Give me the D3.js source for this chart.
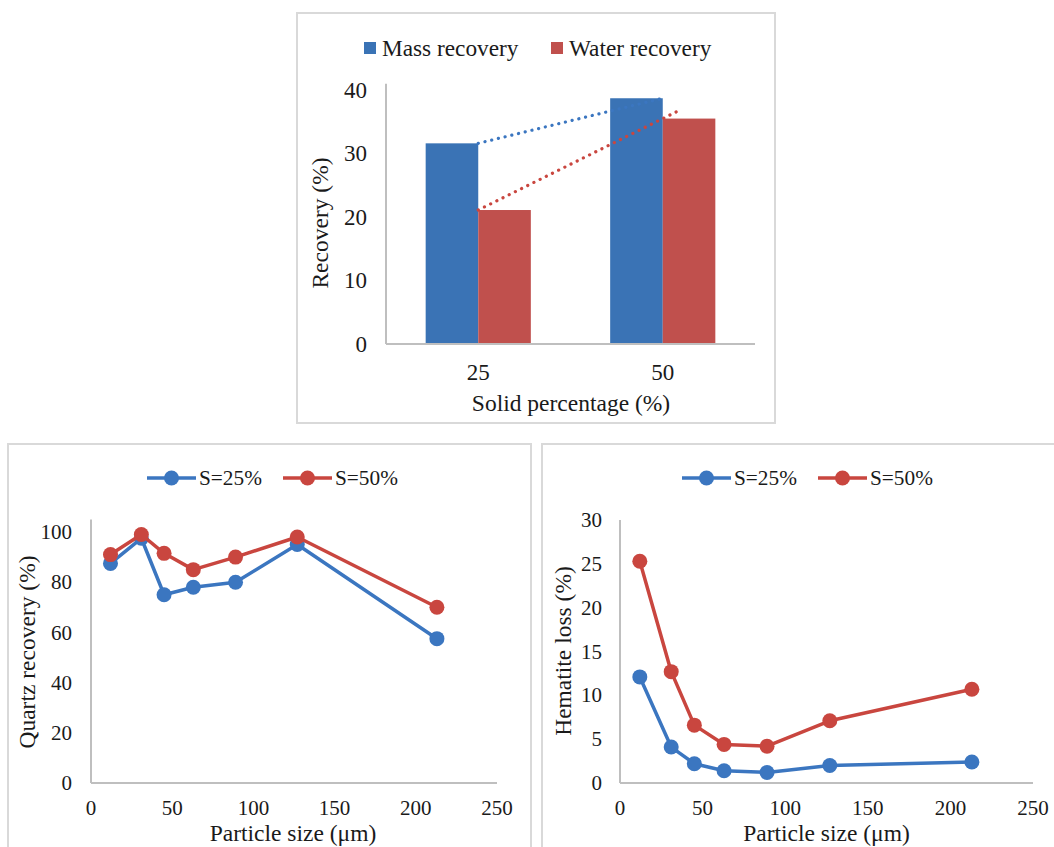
<!DOCTYPE html>
<html>
<head>
<meta charset="utf-8">
<script src="https://cdn.jsdelivr.net/npm/d3@7"></script>
<style>
  html, body { margin: 0; padding: 0; background: #fff; }
  svg text { font-family: "Liberation Serif", "Times New Roman", serif; fill: #1a1a1a; }
</style>
</head>
<body>
<svg id="chart" width="1054" height="847"></svg>
<script>
// ---------- DATA ----------
// Top chart: recovery vs solid percentage
const solidCategories = ["25", "50"];
const barSeries = ["Mass recovery", "Water recovery"];
const massRecovery = [31.6, 38.7];
const waterRecovery = [21.1, 35.5];
const recoveryTicks = [0, 10, 20, 30, 40];

// Bottom charts: particle size
const particleSize = [12, 31, 45, 63, 89, 127, 213];
const lineSeries = ["S=25%", "S=50%"];
const quartzS25 = [87.5, 97.5, 75, 78, 80, 95, 57.5];
const quartzS50 = [91, 99, 91.5, 85, 90, 98, 70];
const hematiteS25 = [12.1, 4.1, 2.2, 1.4, 1.2, 2.0, 2.4];
const hematiteS50 = [25.3, 12.7, 6.6, 4.4, 4.2, 7.1, 10.7];
const sizeTicks = [0, 50, 100, 150, 200, 250];
const quartzTicks = [0, 20, 40, 60, 80, 100];
const hematiteTicks = [0, 5, 10, 15, 20, 25, 30];

// ---------- STYLE ----------
const BLUE_BAR = "#3a73b5", RED_BAR = "#c0504d";
const BLUE_LINE = "#3b76c0", RED_LINE = "#c9463f";
const AXIS = "#bfbfbf", FRAME = "#d9d9d9";
const barColors = [BLUE_BAR, RED_BAR];
const lineColors = [BLUE_LINE, RED_LINE];

const svg = d3.select("#chart");

function frame(x, y, w, h) {
  svg.append("rect").attr("x", x).attr("y", y).attr("width", w).attr("height", h)
    .attr("fill", "none").attr("stroke", FRAME).attr("stroke-width", 2);
}

// ---------- TOP BAR CHART ----------
(function () {
  frame(297, 13, 478, 410);
  const g = svg.append("g");
  const y = d3.scaleLinear().domain([0, 40]).range([344, 90]);
  const x = d3.scaleBand().domain(solidCategories).range([386, 755])
    .paddingInner(0.43).paddingOuter(0.215);
  const xs = d3.scaleBand().domain(barSeries).range([0, x.bandwidth()]);
  const values = [massRecovery, waterRecovery];

  // bars
  barSeries.forEach((s, si) => {
    g.selectAll(null).data(solidCategories).enter().append("rect")
      .attr("x", (c) => x(c) + xs(s))
      .attr("y", (c, i) => y(values[si][i]))
      .attr("width", xs.bandwidth())
      .attr("height", (c, i) => y(0) - y(values[si][i]))
      .attr("fill", barColors[si]);
  });

  // trend lines (dotted), linear through category centres
  const cx = (t) => x(solidCategories[0]) + x.bandwidth() / 2 + t * x.step();
  const trendEnds = [1.0, 1.08];
  values.forEach((vals, si) => {
    const slope = vals[1] - vals[0];
    const t1 = trendEnds[si];
    g.append("line")
      .attr("x1", cx(0)).attr("y1", y(vals[0]))
      .attr("x2", cx(t1)).attr("y2", y(vals[0] + slope * t1))
      .attr("stroke", lineColors[si]).attr("stroke-width", 3.2)
      .attr("stroke-linecap", "round").attr("stroke-dasharray", "0.1 6.8");
  });

  // axes lines
  g.append("line").attr("x1", 386).attr("x2", 386).attr("y1", y(0)).attr("y2", y(41))
    .attr("stroke", AXIS).attr("stroke-width", 2);
  g.append("line").attr("x1", 386).attr("x2", 755).attr("y1", y(0)).attr("y2", y(0))
    .attr("stroke", AXIS).attr("stroke-width", 2);

  // tick labels
  g.selectAll(null).data(recoveryTicks).enter().append("text")
    .attr("x", 367).attr("y", (d) => y(d)).attr("dy", "0.34em")
    .attr("text-anchor", "end").attr("font-size", 23).text((d) => d);
  g.selectAll(null).data(solidCategories).enter().append("text")
    .attr("x", (c) => x(c) + x.bandwidth() / 2).attr("y", 380)
    .attr("text-anchor", "middle").attr("font-size", 23).text((d) => d);

  // titles
  g.append("text").attr("x", 571).attr("y", 411).attr("text-anchor", "middle")
    .attr("font-size", 23.5).text("Solid percentage (%)");
  g.append("text").attr("transform", "translate(328,223) rotate(-90)")
    .attr("text-anchor", "middle").attr("font-size", 23.5).text("Recovery (%)");

  // legend
  const legX = [364, 551];
  barSeries.forEach((s, i) => {
    g.append("rect").attr("x", legX[i]).attr("y", 42).attr("width", 12).attr("height", 12)
      .attr("fill", barColors[i]);
    g.append("text").attr("x", legX[i] + 18).attr("y", 56).attr("font-size", 23.3).text(s);
  });
})();

// ---------- LINE CHART helper ----------
function lineChart(opt) {
  frame(opt.frameX, 444, opt.frameW, 430);
  const g = svg.append("g");
  const x = d3.scaleLinear().domain([0, 250]).range([opt.x0, opt.x1]);
  const y = d3.scaleLinear().domain([0, opt.yMax]).range([783, opt.yTopPx]);

  g.append("line").attr("x1", x(0)).attr("x2", x(0)).attr("y1", y(0)).attr("y2", y(opt.yAxisTop))
    .attr("stroke", AXIS).attr("stroke-width", 2);
  g.append("line").attr("x1", x(0)).attr("x2", x(250)).attr("y1", y(0)).attr("y2", y(0))
    .attr("stroke", AXIS).attr("stroke-width", 2);

  g.selectAll(null).data(opt.yTicks).enter().append("text")
    .attr("x", opt.yLabelX).attr("y", (d) => y(d)).attr("dy", "0.34em")
    .attr("text-anchor", "end").attr("font-size", 21).text((d) => d);
  g.selectAll(null).data(sizeTicks).enter().append("text")
    .attr("x", (d) => x(d)).attr("y", 815)
    .attr("text-anchor", "middle").attr("font-size", 21).text((d) => d);

  g.append("text").attr("x", (x(0) + x(250)) / 2 + opt.xTitleShift).attr("y", 841)
    .attr("text-anchor", "middle").attr("font-size", 23.5).text("Particle size (\u03bcm)");
  g.append("text").attr("transform", `translate(${opt.yTitleX},${opt.yTitleY}) rotate(-90)`)
    .attr("text-anchor", "middle").attr("font-size", 23.5).text(opt.yTitle);

  const line = d3.line().x((d) => x(d[0])).y((d) => y(d[1]));
  opt.series.forEach((vals, si) => {
    const pts = particleSize.map((p, i) => [p, vals[i]]);
    g.append("path").attr("d", line(pts)).attr("fill", "none")
      .attr("stroke", lineColors[si]).attr("stroke-width", 3.5).attr("stroke-linejoin", "round");
    g.selectAll(null).data(pts).enter().append("circle")
      .attr("cx", (d) => x(d[0])).attr("cy", (d) => y(d[1])).attr("r", 7.5)
      .attr("fill", lineColors[si]);
  });

  // legend
  opt.legendX.forEach((lx, i) => {
    g.append("line").attr("x1", lx).attr("x2", lx + 49).attr("y1", 478).attr("y2", 478)
      .attr("stroke", lineColors[i]).attr("stroke-width", 3.5);
    g.append("circle").attr("cx", lx + 24.5).attr("cy", 478).attr("r", 7.5).attr("fill", lineColors[i]);
    g.append("text").attr("x", lx + 52).attr("y", 485).attr("font-size", 21.3).text(lineSeries[i]);
  });
}

lineChart({
  frameX: 8, frameW: 523, x0: 91, x1: 497, yMax: 100, yTopPx: 532, yAxisTop: 105,
  yTicks: quartzTicks, yLabelX: 72, yTitle: "Quartz recovery (%)", yTitleX: 35, yTitleY: 652,
  xTitleShift: -1, series: [quartzS25, quartzS50], legendX: [147, 283]
});

lineChart({
  frameX: 542, frameW: 520, x0: 620, x1: 1033, yMax: 30, yTopPx: 520, yAxisTop: 30,
  yTicks: hematiteTicks, yLabelX: 602, yTitle: "Hematite loss (%)", yTitleX: 571, yTitleY: 651,
  xTitleShift: 0, series: [hematiteS25, hematiteS50], legendX: [682, 818]
});
</script>
</body>
</html>
